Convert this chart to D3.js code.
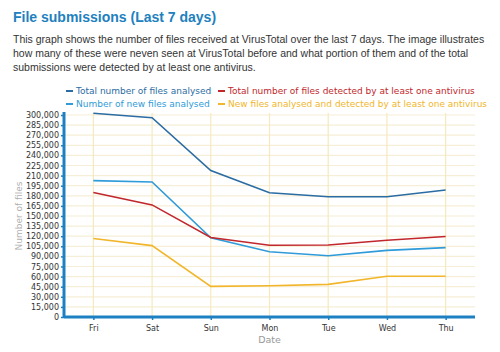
<!DOCTYPE html>
<html>
<head>
<meta charset="utf-8">
<script src="https://cdn.jsdelivr.net/npm/d3@7"></script>
<style>
  body { margin: 0; background: #fff; }
  svg { display: block; }
</style>
</head>
<body>
<div id="chart"></div>
<script>
// data
var days = ['Fri', 'Sat', 'Sun', 'Mon', 'Tue', 'Wed', 'Thu'];
var totalFiles = [302500, 296000, 217500, 184500, 178500, 178500, 188500];
var newFiles = [202500, 200500, 117500, 97000, 91000, 99000, 103000];
var totalDetected = [185000, 166500, 118000, 106500, 107000, 114000, 119500];
var newDetected = [116500, 106000, 45500, 46500, 48500, 60500, 60500];
var yTicks = d3.range(0, 300001, 15000);

var seriesNames = [
    'Total number of files analysed',
    'Number of new files analysed',
    'Total number of files detected by at least one antivirus',
    'New files analysed and detected by at least one antivirus'
];
var seriesColors = ['#2b6ca3', '#2f9bd8', '#c1272d', '#f1b62c'];
var seriesValues = [totalFiles, newFiles, totalDetected, newDetected];

var width = 500, height = 352,
    margin = { top: 115, right: 25, bottom: 35, left: 64 };

var svg = d3.select('#chart').append('svg')
    .attr('width', width)
    .attr('height', height);

// heading and description
svg.append('text')
    .attr('x', 13).attr('y', 22)
    .attr('font-family', 'Liberation Sans, Arial, sans-serif')
    .attr('font-size', 14).attr('font-weight', 'bold')
    .attr('fill', '#2180be')
    .text('File submissions (Last 7 days)');

var desc = [
    'This graph shows the number of files received at VirusTotal over the last 7 days. The image illustrates',
    'how many of these were neven seen at VirusTotal before and what portion of them and of the total',
    'submissions were detected by at least one antivirus.'
];
svg.append('g').selectAll('text')
    .data(desc)
    .enter().append('text')
    .attr('x', 13)
    .attr('y', (d, i) => 43 + i * 14)
    .attr('font-family', 'Liberation Sans, Arial, sans-serif')
    .attr('font-size', 10.5)
    .attr('fill', '#333')
    .text(d => d);

var x = d3.scalePoint().domain(days)
    .range([margin.left, width - margin.right]).padding(0.5);
var y = d3.scaleLinear().domain([0, 300000])
    .range([height - margin.bottom, margin.top]);

// grid
var grid = svg.append('g');
grid.selectAll('line.h')
    .data(yTicks.slice(1))
    .enter().append('line')
    .attr('x1', margin.left).attr('x2', width - margin.right)
    .attr('y1', d => y(d)).attr('y2', d => y(d))
    .attr('stroke', '#f6eed6').attr('stroke-width', 1.2);
grid.selectAll('line.v')
    .data(days)
    .enter().append('line')
    .attr('x1', d => x(d)).attr('x2', d => x(d))
    .attr('y1', y(0)).attr('y2', margin.top - 2)
    .attr('stroke', '#f7e9bd').attr('stroke-width', 1.2);

// lines
var line = d3.line()
    .x((d, i) => x(days[i]))
    .y(d => y(d));
svg.append('g').selectAll('path')
    .data(seriesValues)
    .enter().append('path')
    .attr('d', line)
    .attr('fill', 'none')
    .attr('stroke', (d, i) => seriesColors[i])
    .attr('stroke-width', 1.6);

// axes
var axisColor = '#1d80c3';
var yAxis = svg.append('g')
    .attr('transform', `translate(${margin.left},0)`)
    .call(d3.axisLeft(y).tickValues(yTicks).tickSize(3).tickPadding(2)
        .tickFormat(d3.format(',')));
yAxis.select('.domain').attr('stroke', axisColor).attr('stroke-width', 3)
    .attr('d', `M0,${margin.top - 3}V${y(0)}`);
yAxis.selectAll('.tick line').attr('stroke', axisColor).attr('stroke-width', 1.5);
yAxis.selectAll('text').attr('fill', '#333')
    .attr('font-family', 'DejaVu Sans, Verdana, sans-serif').attr('font-size', 8);

var xAxis = svg.append('g')
    .attr('transform', `translate(0,${y(0)})`)
    .call(d3.axisBottom(x).tickSize(3).tickPadding(5));
xAxis.select('.domain').attr('stroke', axisColor).attr('stroke-width', 3)
    .attr('d', `M${margin.left},0H${width - margin.right}`);
xAxis.selectAll('.tick line').attr('stroke', axisColor).attr('stroke-width', 1.5);
xAxis.selectAll('text').attr('fill', '#333')
    .attr('font-family', 'DejaVu Sans, Verdana, sans-serif').attr('font-size', 8);

// axis titles
svg.append('text')
    .attr('transform', `translate(22,${(y(0) + margin.top) / 2}) rotate(-90)`)
    .attr('text-anchor', 'middle')
    .attr('font-family', 'DejaVu Sans, Verdana, sans-serif')
    .attr('font-size', 9).attr('fill', '#b0b0b0')
    .text('Number of files');
svg.append('text')
    .attr('x', (margin.left + width - margin.right) / 2).attr('y', 343)
    .attr('text-anchor', 'middle')
    .attr('font-family', 'DejaVu Sans, Verdana, sans-serif')
    .attr('font-size', 9.5).attr('fill', '#999')
    .text('Date');

// legend, two columns
var legendPos = [[66, 94], [66, 107], [218, 94], [218, 107]];
var legend = svg.append('g').selectAll('g')
    .data(seriesNames)
    .enter().append('g')
    .attr('transform', (d, i) => `translate(${legendPos[i][0]},${legendPos[i][1]})`);
legend.append('line')
    .attr('x1', 0).attr('x2', 7).attr('y1', -3).attr('y2', -3)
    .attr('stroke', (d, i) => seriesColors[i]).attr('stroke-width', 2);
legend.append('text')
    .attr('x', 10)
    .attr('font-family', 'DejaVu Sans, Verdana, sans-serif')
    .attr('font-size', 9)
    .attr('fill', (d, i) => seriesColors[i])
    .text(d => d);
</script>
</body>
</html>
